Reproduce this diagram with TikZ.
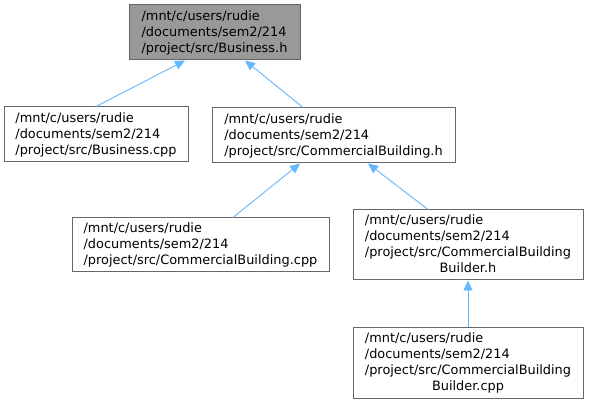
\documentclass[tikz,border=0pt]{standalone}
\usepackage{fontspec}
\setmainfont{DejaVu Sans}
\usetikzlibrary{arrows.meta,calc}
\definecolor{edgeblue}{HTML}{63B8FF}
\definecolor{boxgray}{HTML}{999999}
\definecolor{linegray}{HTML}{666666}
\begin{document}
\begin{tikzpicture}[x=1pt,y=-1pt,
  filebox/.style={draw=linegray, line width=1pt, fill=white, inner sep=0pt,
    align=left, font=\fontsize{12.9}{16}\selectfont},
  edge/.style={draw=edgeblue, line width=0.9pt,
    -{Triangle[length=10pt,width=9pt]}}]
\useasboundingbox (0,0) rectangle (589,403);
\fill[white] (0,0) rectangle (589,403);
\node[filebox, fill=boxgray, minimum width=171pt, minimum height=55pt] (bh) at (214.5,32.5)
  {/mnt/c/users/rudie\\/documents/sem2/214\\/project/src/Business.h};
\node[filebox, minimum width=184pt, minimum height=55pt] (bcpp) at (96,134.5)
  {/mnt/c/users/rudie\\/documents/sem2/214\\/project/src/Business.cpp};
\node[filebox, minimum width=243pt, minimum height=55pt] (cbh) at (333.5,135.5)
  {/mnt/c/users/rudie\\/documents/sem2/214\\/project/src/CommercialBuilding.h};
\node[filebox, minimum width=257pt, minimum height=54pt] (cbcpp) at (200.5,245)
  {/mnt/c/users/rudie\\/documents/sem2/214\\/project/src/CommercialBuilding.cpp};
\node[filebox, minimum width=230pt, minimum height=70pt] (cbbh) at (468,245)
  {\begin{tabular}{@{}l@{}}/mnt/c/users/rudie\\/documents/sem2/214\\/project/src/CommercialBuilding\\\multicolumn{1}{@{}c@{}}{Builder.h}\end{tabular}};
\node[filebox, minimum width=230pt, minimum height=70pt] (cbbcpp) at (468,363)
  {\begin{tabular}{@{}l@{}}/mnt/c/users/rudie\\/documents/sem2/214\\/project/src/CommercialBuilding\\\multicolumn{1}{@{}c@{}}{Builder.cpp}\end{tabular}};
\draw[edge] (bcpp.north) -- ([xshift=-29.5pt]bh.south);
\draw[edge] ([xshift=-30.5pt]cbh.north) -- ([xshift=30.5pt]bh.south);
\draw[edge] ([xshift=32.5pt]cbcpp.north) -- ([xshift=-33.5pt]cbh.south);
\draw[edge] ([xshift=-40pt]cbbh.north) -- ([xshift=34.5pt]cbh.south);
\draw[edge] (cbbcpp.north) -- (cbbh.south);
\end{tikzpicture}
\end{document}
